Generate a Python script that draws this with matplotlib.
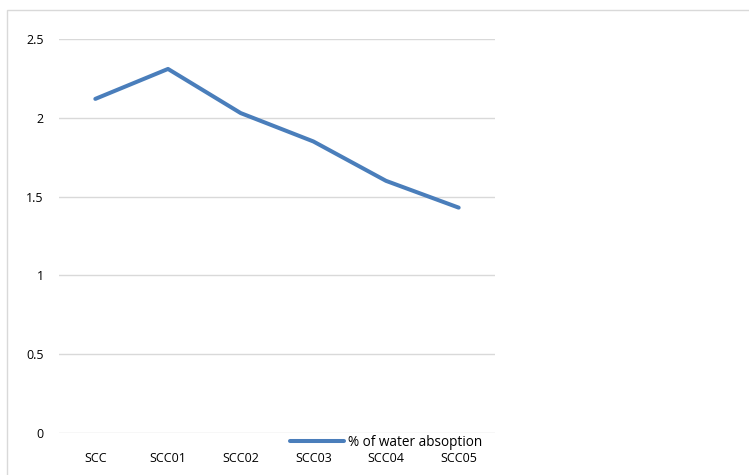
import matplotlib
matplotlib.use("Agg")
import matplotlib.pyplot as plt
from matplotlib.patches import Rectangle

categories = ["SCC", "SCC01", "SCC02", "SCC03", "SCC04", "SCC05"]
absorption = [2.12, 2.31, 2.03, 1.85, 1.60, 1.43]
yticks = [0, 0.5, 1, 1.5, 2, 2.5]

plt.rcParams['font.family'] = ['Open Sans', 'DejaVu Sans']

fig = plt.figure(figsize=(7.49, 4.75), dpi=100)
# outer chart border
fig.patches.append(Rectangle((7 / 749, -0.1), 1.2, 1 - 10 / 475 + 0.1,
                             transform=fig.transFigure, fill=False,
                             edgecolor='#d9d9d9', linewidth=1))

ax = fig.add_axes([59 / 749, 1 - 433 / 475, 436 / 749, 394 / 475])
x = list(range(len(categories)))
ax.plot(x, absorption, color='#4a7ebb', linewidth=2.9,
        solid_capstyle='round', label='% of water absoption')

ax.set_xlim(-0.5, len(categories) - 0.5)
ax.set_ylim(0, 2.5)
ax.set_yticks(yticks)
ax.set_yticklabels([str(t) for t in yticks])
ax.set_xticks(x)
ax.set_xticklabels(categories)
ax.tick_params(length=0, labelsize=9, colors='#000000')
ax.tick_params(axis='y', pad=11)
ax.tick_params(axis='x', pad=14)
ax.grid(axis='y', color='#d9d9d9', linewidth=1)
ax.set_axisbelow(True)
for s in ax.spines.values():
    s.set_visible(False)

leg = ax.legend(loc='center', bbox_to_anchor=(386 / 749, 1 - 442 / 475),
                bbox_transform=fig.transFigure, frameon=False, fontsize=9.8,
                handlelength=4.0, handletextpad=0.3, borderpad=0)

fig.savefig('out.png', dpi=100)
